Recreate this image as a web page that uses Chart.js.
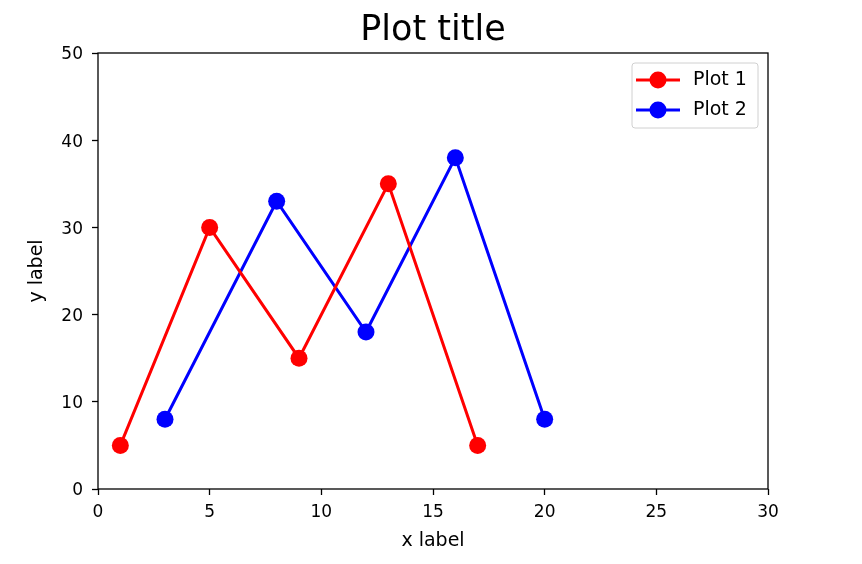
<!DOCTYPE html>
<html>
<head>
<meta charset="utf-8">
<script src="https://cdn.jsdelivr.net/npm/chart.js@4"></script>
<style>
  html, body { margin: 0; padding: 0; background: #fff; }
  #wrap { width: 862px; height: 564px; }
</style>
</head>
<body>
<div id="wrap"><canvas id="chart" width="862" height="564"></canvas></div>
<script>
// données
const plot1X = [1, 5, 9, 13, 17];
const plot1Y = [5, 30, 15, 35, 5];
const plot2X = [3, 8, 12, 16, 20];
const plot2Y = [8, 33, 18, 38, 8];
const seriesNames = ['Plot 1', 'Plot 2'];
const seriesColors = ['#ff0000', '#0000ff'];
const chartTitle = 'Plot title';

const FONT = 'DejaVu Sans';

function toPoints(xs, ys) {
  return xs.map((x, i) => ({ x: x, y: ys[i] }));
}

// cadre, titre centré sur la zone de tracé et légende façon matplotlib
const framePlugin = {
  id: 'frame',
  afterDatasetsDraw(chart) {
    const { ctx, chartArea: a } = chart;
    ctx.save();
    ctx.strokeStyle = '#000';
    ctx.lineWidth = 1.3;
    ctx.strokeRect(a.left, a.top, a.right - a.left, a.bottom - a.top);

    // titre
    ctx.fillStyle = '#000';
    ctx.font = '35px ' + FONT;
    ctx.textAlign = 'center';
    ctx.textBaseline = 'alphabetic';
    ctx.fillText(chartTitle, (a.left + a.right) / 2, 40);

    // légende
    const bx = a.right - 136, by = a.top + 10, bw = 126, bh = 65;
    ctx.fillStyle = 'rgba(255,255,255,0.8)';
    ctx.strokeStyle = '#d0d0d0';
    ctx.lineWidth = 1;
    ctx.beginPath();
    ctx.roundRect(bx, by, bw, bh, 3);
    ctx.fill();
    ctx.stroke();
    chart.data.datasets.forEach((ds, i) => {
      const y = by + 17 + i * 30;
      ctx.strokeStyle = ds.borderColor;
      ctx.lineWidth = 3;
      ctx.beginPath();
      ctx.moveTo(bx + 4, y);
      ctx.lineTo(bx + 48, y);
      ctx.stroke();
      ctx.fillStyle = ds.borderColor;
      ctx.beginPath();
      ctx.arc(bx + 26, y, 8.5, 0, Math.PI * 2);
      ctx.fill();
      ctx.fillStyle = '#000';
      ctx.font = '19px ' + FONT;
      ctx.textBaseline = 'middle';
      ctx.textAlign = 'left';
      ctx.fillText(ds.label, bx + 61, y);
    });
    ctx.restore();
  }
};

const datasets = [toPoints(plot1X, plot1Y), toPoints(plot2X, plot2Y)].map((pts, i) => ({
  label: seriesNames[i],
  data: pts,
  showLine: true,
  borderColor: seriesColors[i],
  backgroundColor: seriesColors[i],
  borderWidth: 3,
  pointRadius: 8.5,
  pointHoverRadius: 8.5,
  pointBorderWidth: 0,
  tension: 0,
  clip: false
}));

new Chart(document.getElementById('chart'), {
  type: 'scatter',
  data: { datasets: datasets },
  plugins: [framePlugin],
  options: {
    responsive: false,
    animation: false,
    events: [],
    layout: { padding: { left: 0, right: 94, top: 53, bottom: 0 } },
    plugins: {
      legend: { display: false },
      tooltip: { enabled: false },
      title: { display: false }
    },
    scales: {
      x: {
        type: 'linear',
        min: 0,
        max: 30,
        afterFit(axis) { axis.height = 75; },
        border: { display: false },
        grid: { drawOnChartArea: false, drawTicks: true, tickLength: 6, tickColor: '#000', tickWidth: 1.3 },
        ticks: { stepSize: 5, color: '#000', padding: 7, font: { family: FONT, size: 17 } },
        title: { display: true, text: 'x label', color: '#000', font: { family: FONT, size: 19 }, padding: { top: 0, bottom: 12 } }
      },
      y: {
        type: 'linear',
        min: 0,
        max: 50,
        afterFit(axis) { axis.width = 98; },
        border: { display: false },
        grid: { drawOnChartArea: false, drawTicks: true, tickLength: 6, tickColor: '#000', tickWidth: 1.3 },
        ticks: { stepSize: 10, color: '#000', padding: 9, labelOffset: 2, font: { family: FONT, size: 17 } },
        title: { display: true, text: 'y label', color: '#000', font: { family: FONT, size: 19 }, padding: { top: 26, bottom: 0 } }
      }
    }
  }
});
</script>
</body>
</html>
